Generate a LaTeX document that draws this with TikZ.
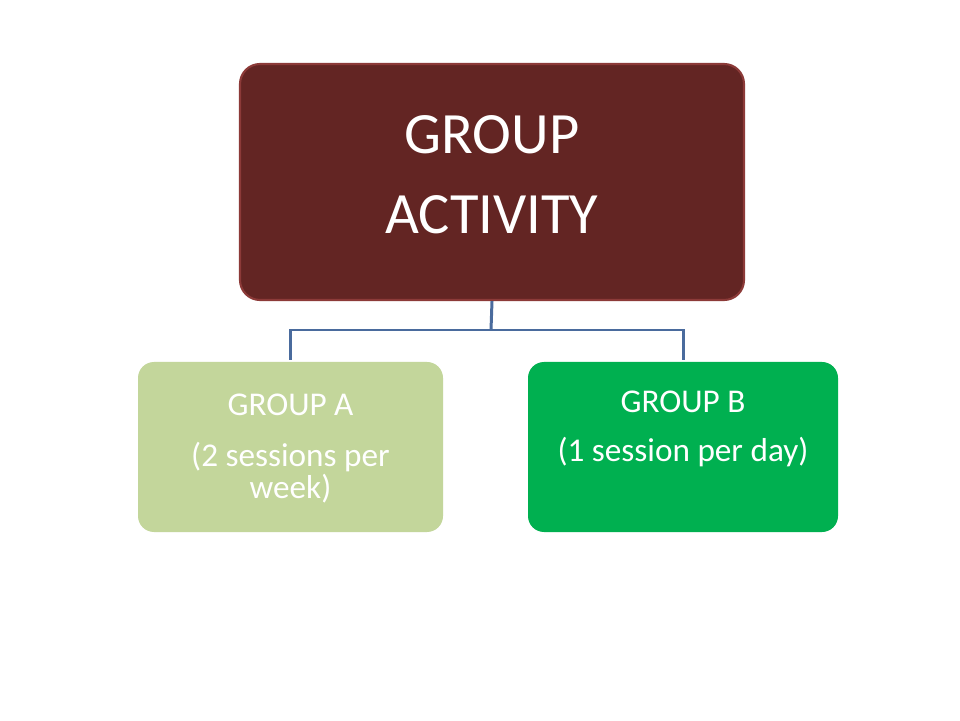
\documentclass[tikz,border=0pt]{standalone}
\usepackage{fontspec}
\setmainfont{Carlito}
\usepackage{tikz}
\usetikzlibrary{positioning}

\definecolor{topred}{HTML}{632523}
\definecolor{topedge}{HTML}{8C3A38}
\definecolor{lightgreen}{HTML}{C3D69B}
\definecolor{darkgreen}{HTML}{00B050}
\definecolor{linkblue}{HTML}{4A6B9D}

\begin{document}
\begin{tikzpicture}
			[
				topbox/.style={draw=topedge,line width=1.2pt,fill=topred,rounded corners=0.4cm,
					minimum width=10.08cm,minimum height=4.72cm,inner sep=0pt},
				groupbox/.style={draw=none,rounded corners=0.32cm,
					minimum height=3.4cm,inner sep=0pt},
				bigtext/.style={text=white,align=center,inner sep=0pt,
					font=\fontsize{33.3}{45.4}\selectfont},
				smalltext/.style={text=white,align=center,inner sep=0pt,
					font=\fontsize{18.9}{18}\selectfont},
				link/.style={draw=linkblue,line width=1.7pt,shorten >=1.2pt}
			]

			\useasboundingbox[fill=white] (0,0) rectangle (19.2,14.4);

			% boxes
			\node[topbox] (top) at (  9.84, 10.76 ) {};
			\node[groupbox,fill=lightgreen,minimum width=6.1cm] (grpA) at (  5.81,  5.46 ) {};
			\node[groupbox,fill=darkgreen,minimum width=6.2cm] (grpB) at ( 13.66,  5.46 ) {};

			% texts
			\node[bigtext,anchor=north,below=1.04cm of top.north] (toptxt) {GROUP\\ACTIVITY};
			\node[smalltext,anchor=north,below=0.64cm of grpA.north] (grpAtxt)
				{GROUP A\\[11pt](2 sessions per\\week)};
			\node[smalltext,anchor=north,below=0.58cm of grpB.north] (grpBtxt)
				{GROUP B\\[10pt](1 session per day)};

			% connectors
			\coordinate (fork) at ( 9.82, 7.8 );
			\draw[link,shorten >=0pt] (top.south) -- (fork);
			\foreach \to in {grpA,grpB}
			\draw[link] (fork) -| (\to.north);

		\end{tikzpicture}
\end{document}
